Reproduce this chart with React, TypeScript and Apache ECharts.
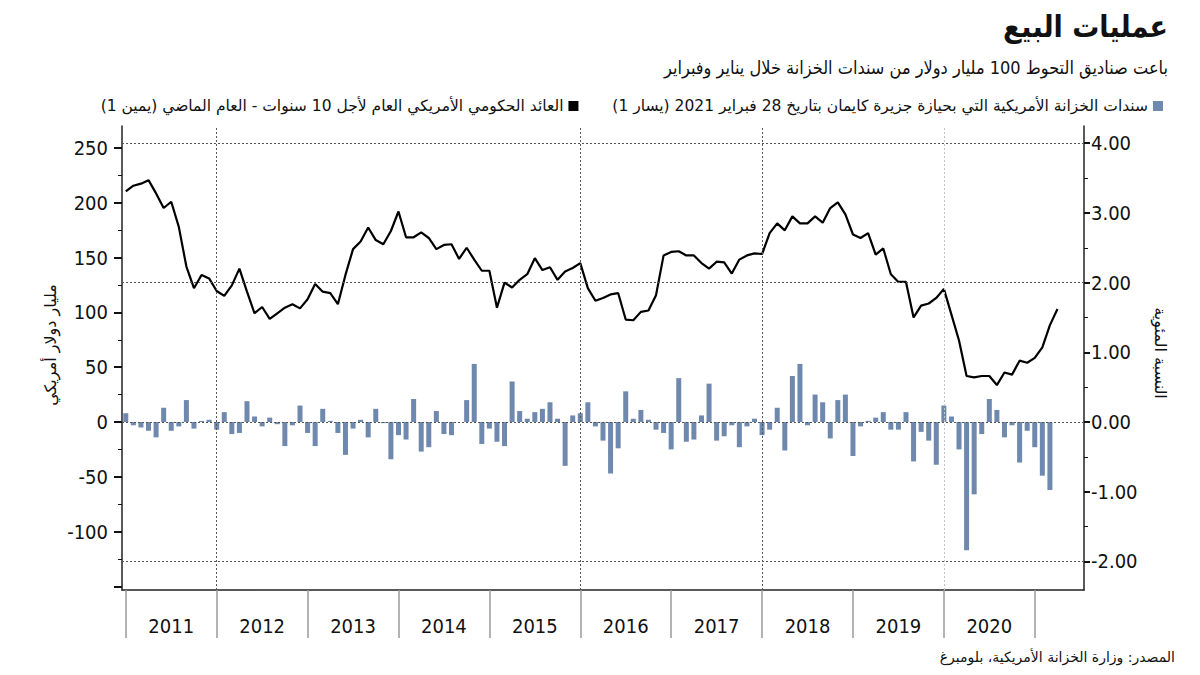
import React, { useEffect, useRef } from 'react';
import * as echarts from 'echarts';

const years = ['2011', '2012', '2013', '2014', '2015', '2016', '2017', '2018', '2019', '2020', '2021'];
const monthCodes = ['01', '02', '03', '04', '05', '06', '07', '08', '09', '10', '11', '12'];
const categories: string[] = [];
years.forEach((y) => monthCodes.forEach((m) => categories.push(`${y}-${m}`)));
const axisCategories = categories.slice(0, 127);

// Cayman Islands holdings of US Treasuries, monthly change (bn USD, left axis)
const caymanChange = [
  8, -3, -5, -8, -14, 13, -8, -4, 20, -6, 1, 2,
  -7, 9, -11, -10, 19, 5, -4, 4, -2, -22, -3, 15,
  -10, -22, 12, 1, -10, -30, -6, 2, -14, 12, -1, -34,
  -12, -16, 21, -27, -23, 10, -11, -12, 0, 20, 53, -20,
  -6, -18, -22, 37, 10, 3, 9, 12, 18, 3, -40, 6,
  8, 18, -4, -17, -47, -24, 28, 3, 11, 2, -7, -10,
  -25, 40, -18, -16, 6, 35, -17, -13, -3, -23, -4, 3,
  -12, -7, 13, -26, 42, 53, -3, 25, 18, -15, 20, 25,
  -31, -4, 1, 4, 9, -7, -7, 9, -36, -9, -17, -39,
  15, 5, -25, -117, -66, -11, 21, 11, -14, -3, -37, -8,
  -23, -49, -62,
];

// US 10-year government bond yield (%, right axis)
const yield10y = [
  3.31, 3.39, 3.42, 3.47, 3.28, 3.07, 3.16, 2.8, 2.23, 1.92, 2.11, 2.06,
  1.88, 1.81, 1.96, 2.2, 1.87, 1.56, 1.65, 1.48, 1.56, 1.64, 1.69, 1.63,
  1.76, 1.98, 1.87, 1.85, 1.69, 2.11, 2.48, 2.59, 2.79, 2.61, 2.55, 2.74,
  3.02, 2.65, 2.65, 2.72, 2.64, 2.48, 2.54, 2.55, 2.34, 2.5, 2.33, 2.17,
  2.17, 1.64, 2.0, 1.93, 2.04, 2.12, 2.35, 2.18, 2.22, 2.04, 2.16, 2.21,
  2.28, 1.92, 1.74, 1.78, 1.83, 1.85, 1.47, 1.46, 1.58, 1.6, 1.82, 2.39,
  2.44, 2.45, 2.39, 2.39, 2.28, 2.2, 2.3, 2.29, 2.13, 2.33, 2.39, 2.42,
  2.41, 2.71, 2.85, 2.75, 2.95, 2.85, 2.85, 2.95, 2.86, 3.07, 3.15, 2.98,
  2.69, 2.64, 2.71, 2.4, 2.49, 2.12, 2.01, 2.01, 1.5, 1.67, 1.7, 1.78,
  1.91, 1.54, 1.17, 0.66, 0.64, 0.66, 0.66, 0.53, 0.71, 0.68, 0.88, 0.85,
  0.92, 1.07, 1.39, 1.62,
];

const darkGridYears = ['2012-01', '2016-01', '2018-01'];
const lightGridYears = ['2020-01'];
const yieldGridValues = [4, 2, 0, -2];

const RLM = '\u200F';
const titleText = 'عمليات البيع';
const subtitleText = 'باعت صناديق التحوط 100 مليار دولار من سندات الخزانة خلال يناير وفبراير';
const barName = 'سندات الخزانة الأمريكية التي بحيازة جزيرة كايمان بتاريخ 28 فبراير 2021 (يسار 1)' + RLM;
const lineName = 'العائد الحكومي الأمريكي العام لأجل 10 سنوات - العام الماضي (يمين 1)' + RLM;
const leftAxisName = 'مليار دولار أمريكي';
const rightAxisName = 'النسبة المئوية';
const sourceText = 'المصدر: وزارة الخزانة الأمريكية، بلومبرغ';

const numFont = "'DejaVu Sans Condensed', 'DejaVu Sans', sans-serif";
const arFont = "'DejaVu Sans', 'Noto Sans', sans-serif";
const arCondFont = "'DejaVu Sans Condensed', 'DejaVu Sans', sans-serif";

export default function App() {
  const ref = useRef<HTMLDivElement>(null);

  useEffect(() => {
    document.body.style.margin = '0';
    if (!ref.current) return;
    const chart = echarts.init(ref.current, null, { renderer: 'svg' });
    const GL = 122;
    const GW = 962;
    const option: any = {
      animation: false,
      backgroundColor: '#ffffff',
      legend: {
        top: 93,
        right: 32,
        align: 'right',
        icon: 'rect',
        itemWidth: 10,
        itemHeight: 10,
        itemGap: 34,
        selectedMode: false,
        textStyle: { fontSize: 15.5, color: '#111', fontFamily: arFont },
        data: [lineName, barName],
      },
      graphic: [
        {
          type: 'text',
          right: 32,
          top: 11,
          style: { text: titleText, font: `bold 30px ${arCondFont}`, fill: '#111' },
        },
        {
          type: 'text',
          right: 32,
          top: 58,
          style: { text: subtitleText, font: `18px ${arCondFont}`, fill: '#111' },
        },
        {
          type: 'text',
          x: 50,
          y: 345,
          rotation: Math.PI / 2,
          style: { text: leftAxisName, font: `16px ${arFont}`, fill: '#111', align: 'center', verticalAlign: 'middle' },
        },
        {
          type: 'text',
          x: 1160,
          y: 353,
          rotation: -Math.PI / 2,
          style: { text: rightAxisName, font: `16px ${arFont}`, fill: '#111', align: 'center', verticalAlign: 'middle' },
        },
        {
          type: 'text',
          right: 25,
          top: 650,
          style: { text: sourceText, font: `14px ${arFont}`, fill: '#111' },
        },
      ],
      grid: [
        { left: GL, width: GW, top: 148, height: 438.4 },
        { left: GL, width: GW, top: 143.2, height: 418.2 },
        { left: GL, width: GW, top: 126, height: 464 },
      ],
      xAxis: [
        { gridIndex: 0, type: 'category', data: axisCategories, boundaryGap: true, show: false },
        { gridIndex: 1, type: 'category', data: axisCategories, boundaryGap: true, show: false },
        {
          gridIndex: 2,
          type: 'category',
          data: axisCategories,
          boundaryGap: true,
          axisLine: { show: true, onZero: false, lineStyle: { color: '#222', width: 1.5 } },
          axisTick: {
            show: true,
            interval: (i: number) => i % 12 === 0,
            alignWithLabel: true,
            length: 48,
            lineStyle: { color: '#9a9a9a', width: 1.5 },
          },
          axisLabel: {
            interval: (i: number) => i % 12 === 6 && i < 120,
            formatter: (v: string) => v.slice(0, 4),
            margin: 26,
            fontSize: 20,
            color: '#111',
            fontFamily: numFont,
          },
          splitLine: { show: false },
        },
      ],
      yAxis: [
        {
          gridIndex: 0,
          type: 'value',
          position: 'left',
          min: -150,
          max: 250,
          interval: 50,
          axisLine: { show: false },
          axisTick: { show: true, length: 8, lineStyle: { color: '#111', width: 2 } },
          minorTick: { show: true, splitNumber: 2, length: 4, lineStyle: { color: '#111', width: 1 } },
          axisLabel: {
            margin: 14,
            fontSize: 20,
            color: '#111',
            fontFamily: numFont,
            formatter: (v: number) => (v === -150 ? '' : String(v)),
          },
          splitLine: { show: false },
        },
        {
          gridIndex: 1,
          type: 'value',
          position: 'right',
          min: -2,
          max: 4,
          interval: 1,
          axisLine: { show: false },
          axisTick: { show: true, length: 6, lineStyle: { color: '#111', width: 2 } },
          minorTick: { show: true, splitNumber: 2, length: 4, lineStyle: { color: '#111', width: 1 } },
          axisLabel: {
            margin: 7,
            fontSize: 20,
            color: '#111',
            fontFamily: numFont,
            formatter: (v: number) => v.toFixed(2),
          },
          splitLine: { show: false },
        },
        {
          gridIndex: 2,
          type: 'value',
          position: 'left',
          min: 0,
          max: 1,
          axisLine: { show: true, lineStyle: { color: '#222', width: 1.5 } },
          axisTick: { show: false },
          axisLabel: { show: false },
          splitLine: { show: false },
        },
        {
          gridIndex: 2,
          type: 'value',
          position: 'right',
          min: 0,
          max: 1,
          axisLine: { show: true, lineStyle: { color: '#222', width: 1.5 } },
          axisTick: { show: false },
          axisLabel: { show: false },
          splitLine: { show: false },
        },
      ],
      series: [
        {
          name: 'hgrid',
          type: 'line',
          xAxisIndex: 1,
          yAxisIndex: 1,
          data: [],
          z: 1,
          silent: true,
          markLine: {
            silent: true,
            symbol: ['none', 'none'],
            label: { show: false },
            lineStyle: { type: [2, 2], color: '#555', width: 1 },
            data: yieldGridValues.map((v) => ({ yAxis: v })),
          },
        },
        {
          name: 'vgrid',
          type: 'line',
          xAxisIndex: 2,
          yAxisIndex: 2,
          data: [],
          z: 1,
          silent: true,
          markLine: {
            silent: true,
            symbol: ['none', 'none'],
            label: { show: false },
            lineStyle: { type: [2, 2], color: '#555', width: 1 },
            data: [
              ...darkGridYears.map((c) => ({ xAxis: c })),
              ...lightGridYears.map((c) => ({ xAxis: c, lineStyle: { color: '#c4c4c4', type: [2, 2], width: 1 } })),
            ],
          },
        },
        {
          name: barName,
          type: 'bar',
          xAxisIndex: 0,
          yAxisIndex: 0,
          data: caymanChange,
          barWidth: 5,
          z: 2,
          itemStyle: { color: '#6f88ad' },
        },
        {
          name: lineName,
          type: 'line',
          xAxisIndex: 1,
          yAxisIndex: 1,
          data: yield10y,
          z: 3,
          symbol: 'none',
          itemStyle: { color: '#000' },
          lineStyle: { color: '#000', width: 2.2 },
        },
      ],
    };
    chart.setOption(option);
    return () => chart.dispose();
  }, []);

  return <div ref={ref} style={{ width: 1200, height: 675 }} />;
}
